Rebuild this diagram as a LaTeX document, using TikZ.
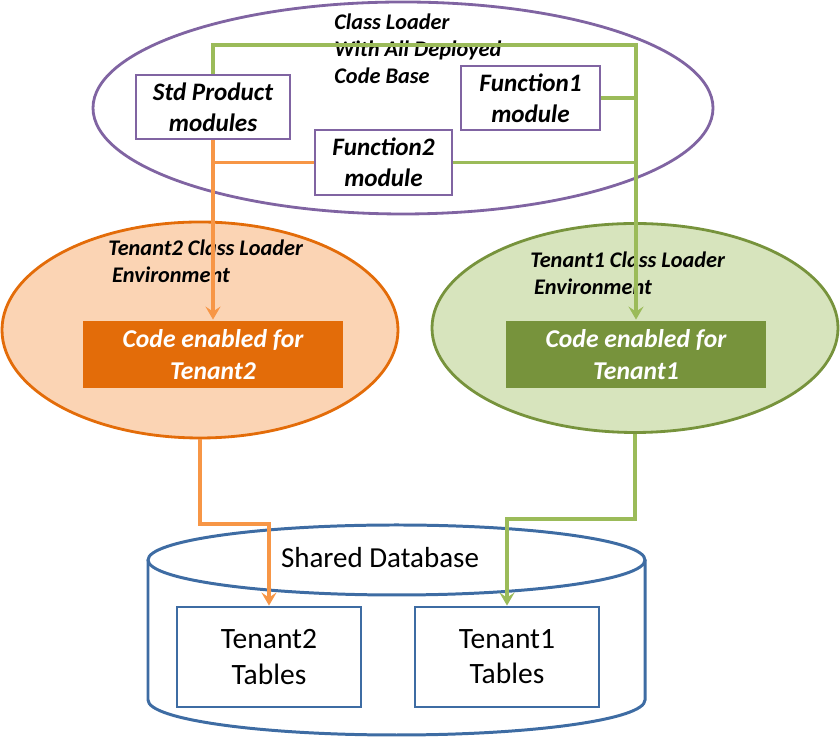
\documentclass[tikz,border=0pt]{standalone}
\usepackage{fontspec}
\setmainfont{Carlito}
\usepackage{xcolor}
\usetikzlibrary{arrows.meta,positioning,calc,shapes.geometric}
\definecolor{cpurple}{HTML}{8064A2}
\definecolor{corange}{HTML}{F79646}
\definecolor{cdorange}{HTML}{E36C09}
\definecolor{cpeach}{HTML}{FBD4B4}
\definecolor{cgreen}{HTML}{9BBB59}
\definecolor{cdgreen}{HTML}{77933C}
\definecolor{clgreen}{HTML}{D7E4BD}
\definecolor{cblue}{HTML}{3E6CA3}

\begin{document}
\begin{tikzpicture}[>={Stealth[length=2.6mm,width=3mm,inset=1mm]}, line width=1.6pt,
  cloud/.style={ellipse, draw, inner sep=0pt},
  modbox/.style={draw=cpurple, fill=white, align=center, inner sep=1pt, font=\fontsize{14.3}{17.6}\selectfont\bfseries\itshape},
  codebox/.style={draw=none, align=center, text=white, minimum width=5.2cm, minimum height=1.34cm, inner sep=1pt, font=\fontsize{14.6}{18}\selectfont\bfseries\itshape},
  envtxt/.style={anchor=west, align=left, inner sep=0pt, font=\fontsize{12.7}{15.4}\selectfont\bfseries\itshape},
  tabbox/.style={draw=cblue, align=center, minimum width=3.68cm, minimum height=2.0cm, inner sep=1pt, font=\fontsize{16.8}{20}\selectfont},
  oline/.style={draw=corange, line width=2.2pt},
  gline/.style={draw=cgreen, line width=2.2pt}]
\useasboundingbox (0,0) rectangle (16.8,14.76);
% loader ellipses
\node[cloud, draw=cpurple, fill=white, minimum width=12.4cm, minimum height=4.24cm] (base) at (8.06,12.60) {};
\node[cloud, draw=cdorange, fill=cpeach, minimum width=7.92cm, minimum height=4.32cm] (lell) at (4.0,8.16) {};
\node[cloud, draw=cdgreen, fill=clgreen, minimum width=8.12cm, minimum height=4.18cm] (rell) at (12.70,8.20) {};
\node[envtxt] (basetxt) at (6.66,13.78) {Class Loader\\With All Deployed\\Code Base};
\node[envtxt] (ltxt) at (2.14,9.53) {Tenant2 Class Loader\\\,Environment};
\node[envtxt] (rtxt) at (10.58,9.29) {Tenant1 Class Loader\\\,Environment};
% modules
\node[modbox, minimum width=3.08cm, minimum height=1.28cm] (std) at (4.26,12.62) {Std Product\\modules};
\node[modbox, minimum width=2.78cm, minimum height=1.28cm] (f1) at (10.61,12.80) {Function1\\module};
\node[modbox, minimum width=2.74cm, minimum height=1.30cm] (f2) at (7.67,11.51) {Function2\\module};
\node[codebox, fill=cdorange] (code2) at (4.26,7.67) {Code enabled for\\Tenant2};
\node[codebox, fill=cdgreen] (code1) at (12.72,7.67) {Code enabled for\\Tenant1};
% shared database
\draw[cblue, line width=1.7pt] (7.93,3.56) ellipse [x radius=4.97, y radius=0.70];
\draw[cblue, line width=1.7pt] (2.96,3.56) -- (2.96,0.76) arc[start angle=180, end angle=360, x radius=4.97, y radius=0.70] -- (12.90,3.56);
\node[font=\fontsize{16.5}{20}\selectfont] (dbtxt) at (7.60,3.60) {Shared Database};
\node[tabbox] (t2tab) at (5.38,1.62) {Tenant2\\Tables};
\node[tabbox] (t1tab) at (10.14,1.62) {Tenant1\\Tables};
% connectors
\coordinate (gtop) at (12.72,13.86);
\coordinate (obend) at (5.38,4.28);
\coordinate (gbend) at (10.14,4.38);
\draw[gline,->] (std.north) |- (gtop) -- (code1.north);
\draw[gline] (f1.east) -- (f1.east -| gtop);
\draw[gline] (f2.east) -- (f2.east -| gtop);
\draw[oline,->] (std.south) -- (code2.north);
\draw[oline] (f2.west) -- (f2.west -| std.south);
\draw[oline,->] (lell.south) |- (obend) -- (t2tab.north);
\draw[gline,->] (rell.south) |- (gbend) -- (t1tab.north);
\end{tikzpicture}
\end{document}
